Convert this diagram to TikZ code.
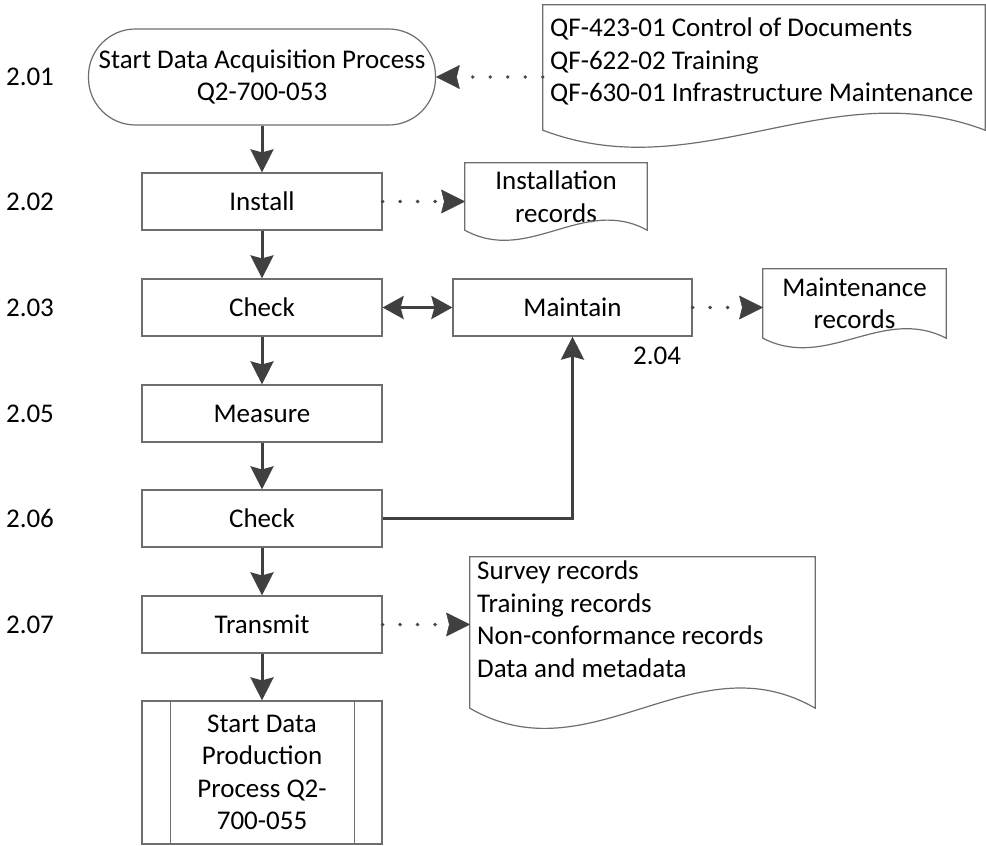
\documentclass[tikz,border=0pt]{standalone}
\usepackage{fontspec}
\setmainfont{Carlito}
\usetikzlibrary{arrows.meta,calc}
\definecolor{boxgray}{HTML}{6E6E6E}
\definecolor{arrowgray}{HTML}{404040}
\definecolor{dotgray}{HTML}{4A4A4A}
\newcommand{\docpath}[2]{%
  \draw[docline] (#1.north west) -- (#1.north east) -- (#1.south east)
   .. controls ($(#1.south west)!0.65!(#1.south east)+(0,-#2)$) and ($(#1.south west)!0.35!(#1.south east)+(0,#2)$) .. (#1.south west) -- cycle;}
\begin{document}
\begin{tikzpicture}[x=1pt,y=-1pt,
  every node/.style={font=\fontsize{27}{32.5}\selectfont, inner sep=0pt},
  box/.style={draw=boxgray, line width=1.2pt, minimum width=240pt, minimum height=57pt, align=center},
  term/.style={draw=boxgray, line width=1.2pt, rounded corners=47pt, minimum width=347pt, minimum height=96pt, align=center},
  doc/.style={align=center},
  docline/.style={draw=boxgray, line width=1.2pt},
  boxline/.style={draw=boxgray, line width=1.2pt},
  lbl/.style={},
  listtext/.style={align=left, anchor=north west},
  flow/.style={draw=arrowgray, line width=3pt, -{Stealth[length=23pt,width=23pt,inset=3pt]}},
  dflow/.style={draw=arrowgray, line width=3pt, {Stealth[length=21pt,width=23pt,inset=3pt]}-{Stealth[length=21pt,width=23pt,inset=3pt]}},
  dotflow/.style={draw=dotgray, line width=3.8pt, line cap=round, dash pattern=on 0pt off 17.5pt, -{Stealth[length=24pt,width=24pt,inset=3pt,round=false,line width=0.5pt,color=arrowgray]}}
]
\useasboundingbox (0,0) rectangle (986,846);

% main flow
\node[term] (start) at (262,77) {Start Data Acquisition Process\\Q2-700-053};
\node[box] (install) at (262,201.5) {Install};
\node[box] (check1) at (262,307.5) {Check};
\node[box] (measure) at (262,413.5) {Measure};
\node[box] (check2) at (262,518.5) {Check};
\node[box] (transmit) at (262,624.5) {Transmit};
\node[box, minimum height=143pt] (prod) at (262,772.5) {Start Data\\Production\\Process Q2-\\700-055};
\draw[boxline] ($(prod.north west)+(29,0)$) -- ($(prod.south west)+(29,0)$);
\draw[boxline] ($(prod.north east)+(-28,0)$) -- ($(prod.south east)+(-28,0)$);
\node[box, minimum width=239pt] (maint) at (572.5,307.5) {Maintain};

% documents
\node[doc, minimum width=442pt, minimum height=125pt] (qf) at (764,67.5) {};
\docpath{qf}{59}
\node[listtext] (qftext) at (550,18) {\fontsize{27}{35.5}\selectfont QF-423-01 Control of Documents\\QF-622-02 Training\\QF-630-01 Infrastructure Maintenance};

\node[doc, minimum width=182pt, minimum height=67pt] (instrec) at (556,196.5) {Installation\\records};
\docpath{instrec}{35}

\node[doc, minimum width=183pt, minimum height=69pt] (mrec) at (854.5,303.5) {Maintenance\\records};
\docpath{mrec}{33}

\node[doc, minimum width=345pt, minimum height=151pt] (surv) at (642.5,632.5) {};
\docpath{surv}{70}
\node[listtext] (survtext) at (477,561) {\fontsize{27}{32.7}\selectfont Survey records\\Training records\\Non-conformance records\\Data and metadata};

% labels
\node[lbl] (l201) at (30,77) {2.01};
\node[lbl] (l202) at (30,201.5) {2.02};
\node[lbl] (l203) at (30,307.5) {2.03};
\node[lbl] (l205) at (30,413.5) {2.05};
\node[lbl] (l206) at (30,518.5) {2.06};
\node[lbl] (l207) at (30,624.5) {2.07};
\node[lbl] (l204) at (657,356) {2.04};

% connectors
\draw[flow] (start.south) -- (install.north);
\draw[flow] (install.south) -- (check1.north);
\draw[flow] (check1.south) -- (measure.north);
\draw[flow] (measure.south) -- (check2.north);
\draw[flow] (check2.south) -- (transmit.north);
\draw[flow] (transmit.south) -- (prod.north);
\draw[dflow] (check1.east) -- (maint.west);
\draw[flow] (check2.east) -| (maint.south);

\draw[dotflow] (qf.west |- start.east) -- (start.east);
\draw[dotflow] (install.east) -- (install.east -| instrec.west);
\draw[dotflow] (maint.east) -- (maint.east -| mrec.west);
\draw[dotflow] (transmit.east) -- (transmit.east -| surv.west);
\end{tikzpicture}
\end{document}
